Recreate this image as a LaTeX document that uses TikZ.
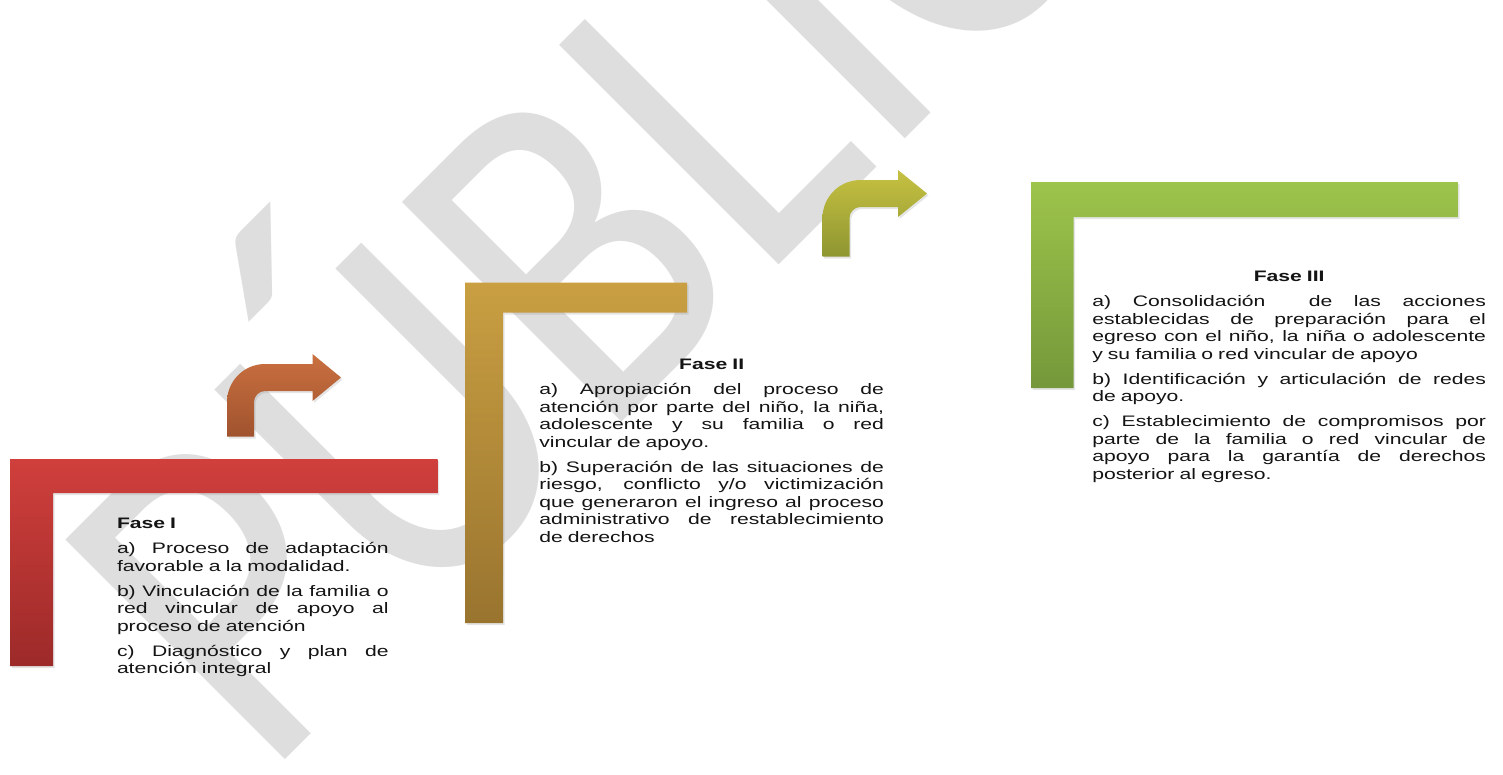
\documentclass[tikz,border=0pt]{standalone}
\usepackage{fontspec}
\setmainfont{Liberation Sans}[FakeStretch=1.39]
\newfontfamily\wmfont{Carlito}[FakeStretch=0.85]
\usetikzlibrary{shadows}
\definecolor{redT}{HTML}{D03F3C}
\definecolor{redB}{HTML}{9C2A29}
\definecolor{goldT}{HTML}{C99F42}
\definecolor{goldB}{HTML}{99742F}
\definecolor{greenT}{HTML}{9DC44B}
\definecolor{greenB}{HTML}{74983A}
\definecolor{orT}{HTML}{CA7040}
\definecolor{orB}{HTML}{A0532E}
\definecolor{olT}{HTML}{C7C142}
\definecolor{olB}{HTML}{8E9631}
\definecolor{wmgray}{HTML}{DEDEDE}
\def\curw{100pt}
\newcommand\jl[1]{\leavevmode\hbox to \curw{\spaceskip=\fontdimen2\font plus 1fil\relax
  \xspaceskip=\spaceskip #1}\\}
% #1 style, #2 stem left x, #3 bottom y, #4 shaft top y, #5 head back x, #6 tip x
\newcommand\bentarrow[6]{%
  \path[#1] (#2,#3) -- (#2,#4+38)
    .. controls (#2,#4+17) and (#2+17,#4) .. (#2+38,#4)
    -- (#5,#4) -- (#5,#4-10) -- (#6,#4+13.5) -- (#5,#4+37) -- (#5,#4+27)
    -- (#2+38,#4+27)
    .. controls (#2+32,#4+27) and (#2+27,#4+32) .. (#2+27,#4+38)
    -- (#2+27,#3) -- cycle;}
\tikzset{
  lshape/.style={drop shadow={opacity=0.2, shadow xshift=1.5pt, shadow yshift=-2pt}},
  bent/.style={drop shadow={opacity=0.2, shadow xshift=1.5pt, shadow yshift=-2pt}},
  phasetext/.style={anchor=north west, inner sep=0pt, outer sep=0pt, align=left,
    text=black!92, font=\fontsize{15.2}{17.5}\selectfont},
  watermark/.style={rotate=45, anchor=base west, inner sep=0pt, outer sep=0pt,
    text=wmgray, font=\wmfont\fontsize{484}{484}\selectfont}
}
\begin{document}
\begin{tikzpicture}[x=1pt,y=-1pt]
\useasboundingbox (0,0) rectangle (1503,774);
\clip (0,0) rectangle (1503,774);
\fill[white] (0,0) rectangle (1503,774);
% watermark
\node[watermark] (wm) at (264,780) {PÚBLICO};
% L shapes
\path[lshape, top color=redT, bottom color=redB]
  (10,459) -- (437.5,459) -- (437.5,493) -- (53,493) -- (53,666) -- (10,666) -- cycle;
\path[lshape, top color=goldT, bottom color=goldB]
  (465,282.5) -- (687,282.5) -- (687,312.5) -- (503,312.5) -- (503,623) -- (465,623) -- cycle;
\path[lshape, top color=greenT, bottom color=greenB]
  (1031,182) -- (1458,182) -- (1458,217) -- (1073.5,217) -- (1073.5,388) -- (1031,388) -- cycle;
% bent arrows
\bentarrow{bent, top color=orT, bottom color=orB}{227}{436.7}{364}{312.5}{341}
\bentarrow{bent, top color=olT, bottom color=olB}{822.5}{256.7}{180}{898}{927}
% texts
\node[phasetext, text width=271.7pt] (f1) at (117,516.25) {\def\curw{271.7pt}%
\strut\textbf{Fase I}\\[7.5pt]
\jl{a) Proceso de adaptación}
favorable a la modalidad.\\[7.5pt]
\jl{b) Vinculación de la familia o}
\jl{red vincular de apoyo al}
proceso de atención\\[7.5pt]
\jl{c) Diagnóstico y plan de}
atención integral};
\node[phasetext, text width=344.7pt] (f2) at (539.3,357.5) {\def\curw{344.7pt}%
\hbox to \curw{\hfil\strut\textbf{Fase II}\hfil}\\[7.5pt]
\jl{a) Apropiación del proceso de}
\jl{atención por parte del niño, la niña,}
\jl{adolescente y su familia o red}
vincular de apoyo.\\[7.5pt]
\jl{b) Superación de las situaciones de}
\jl{riesgo, conflicto y/o victimización}
\jl{que generaron el ingreso al proceso}
\jl{administrativo de restablecimiento}
de derechos};
\node[phasetext, text width=393.7pt] (f3) at (1092.3,269.25) {\def\curw{393.7pt}%
\hbox to \curw{\hfil\strut\textbf{Fase III}\hfil}\\[7.5pt]
\jl{a) Consolidación\ \ de las acciones}
\jl{establecidas de preparación para el}
\jl{egreso con el niño, la niña o adolescente}
y su familia o red vincular de apoyo\\[7.5pt]
\jl{b) Identificación y articulación de redes}
de apoyo.\\[7.5pt]
\jl{c) Establecimiento de compromisos por}
\jl{parte de la familia o red vincular de}
\jl{apoyo para la garantía de derechos}
posterior al egreso.};
\end{tikzpicture}
\end{document}
